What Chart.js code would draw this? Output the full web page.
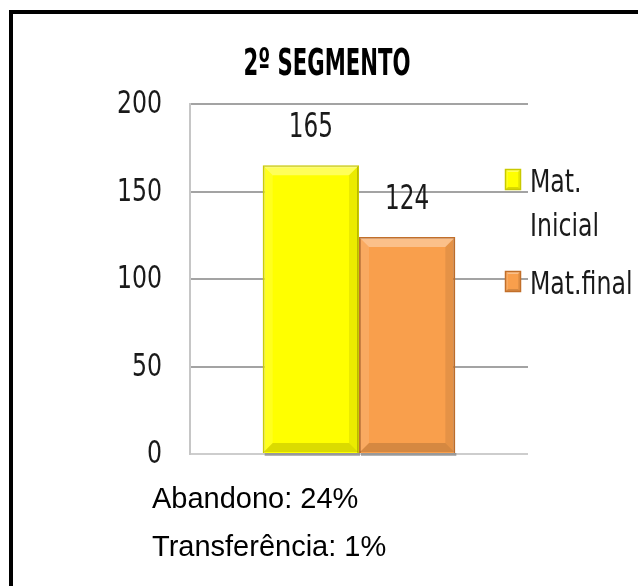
<!DOCTYPE html>
<html>
<head>
<meta charset="utf-8">
<script src="https://cdn.jsdelivr.net/npm/chart.js@4.4.0/dist/chart.umd.min.js"></script>
<style>
  html, body { margin: 0; padding: 0; background: #fff; overflow: hidden; }
  #frame { position: absolute; left: 9px; top: 10px; width: 700px; height: 700px; border-left: 4px solid #000; border-top: 4px solid #000; }
  #chartBox { position: absolute; left: 0; top: 0; width: 638px; height: 586px; }
  .note { position: absolute; left: 152px; font: 29px "Liberation Sans", Arial, sans-serif; line-height: 29px; color: #000; white-space: nowrap; }
</style>
</head>
<body>
<div id="frame"></div>
<div id="chartBox"><canvas id="chart" width="638" height="586"></canvas></div>
<div class="note" id="note0" style="top:484px"></div>
<div class="note" id="note1" style="top:532px"></div>
<script>
// chart data
const chartTitle = "2º SEGMENTO";
const categories = [""];
const seriesNames = ["Mat. Inicial", "Mat.final"];
const seriesValues = [[165], [124]];
const yTicks = [0, 50, 100, 150, 200];
const notes = ["Abandono: 24%", "Transferência: 1%"];

const fills = ["#FFFF00", "#F99F4C"];
const edges = ["#C9C900", "#C26F2A"];
const narrow = '"DejaVu Sans Condensed", "DejaVu Sans", sans-serif';
const squeeze = 0.82;

notes.forEach((t, i) => { document.getElementById("note" + i).textContent = t; });

// draw text squeezed sideways so it looks like the narrow original font
function drawText(ctx, text, x, y, sx, align) {
	ctx.save();
	ctx.translate(x, y);
	ctx.scale(sx, 1);
	ctx.textAlign = align;
	ctx.fillText(text, 0, 0);
	ctx.restore();
}

// light/dark edges like the excel bevel
function bevel(ctx, l, t, r, b, d) {
	const shade = (pts, col) => {
		ctx.beginPath();
		ctx.moveTo(pts[0][0], pts[0][1]);
		pts.slice(1).forEach(p => ctx.lineTo(p[0], p[1]));
		ctx.closePath();
		ctx.fillStyle = col;
		ctx.fill();
	};
	shade([[l, t], [r, t], [r - d, t + d], [l + d, t + d]], "rgba(255,255,255,0.35)");
	shade([[l, b], [r, b], [r - d, b - d], [l + d, b - d]], "rgba(0,0,0,0.14)");
	shade([[r, t], [r, b], [r - d, b - d], [r - d, t + d]], "rgba(0,0,0,0.08)");
	shade([[l, t], [l, b], [l + d, b - d], [l + d, t + d]], "rgba(255,255,255,0.12)");
}

// title, tick labels, value labels and the legend on the right
const extras = {
	id: "extras",
	afterDatasetsDraw(chart) {
		const ctx = chart.ctx;
		ctx.save();

		chart.data.datasets.forEach((ds, i) => {
			chart.getDatasetMeta(i).data.forEach(bar => {
				const l = bar.x - bar.width / 2, r = bar.x + bar.width / 2;
				bevel(ctx, l + 1, bar.y + 1, r - 1, bar.base - 1, 9);
				ctx.fillStyle = "rgba(90,90,90,0.45)";
				ctx.fillRect(l + 2, bar.base, bar.width - 1, 3);
			});
		});

		ctx.fillStyle = "#000";
		ctx.textBaseline = "alphabetic";
		ctx.font = "bold 37px " + narrow;
		const tw = ctx.measureText(chartTitle).width;
		drawText(ctx, chartTitle, 327, 75, 167 / tw, "center");

		ctx.fillStyle = "#1a1a1a";
		ctx.textBaseline = "middle";
		ctx.font = "32px " + narrow;
		const ys = chart.scales.y;
		ys.ticks.forEach(t => {
			drawText(ctx, String(t.value), 162, ys.getPixelForValue(t.value) + 1, squeeze, "right");
		});

		ctx.font = "33px " + narrow;
		chart.data.datasets.forEach((ds, i) => {
			chart.getDatasetMeta(i).data.forEach((bar, j) => {
				drawText(ctx, String(ds.data[j]), bar.x, bar.y - 37, 0.78, "center");
			});
		});

		ctx.font = "32px " + narrow;
		ctx.textBaseline = "alphabetic";
		let y = 169;
		chart.data.datasets.forEach((ds, i) => {
			const words = ds.label.split(" ");
			const lines = [];
			let cur = "";
			words.forEach(w => {
				const test = cur ? cur + " " + w : w;
				if (cur && ctx.measureText(test).width * squeeze > 106) {
					lines.push(cur);
					cur = w;
				} else {
					cur = test;
				}
			});
			lines.push(cur);

			ctx.fillStyle = fills[i];
			ctx.fillRect(505, y, 16, 21);
			bevel(ctx, 505, y, 521, y + 21, 3);
			ctx.strokeStyle = edges[i];
			ctx.lineWidth = 1.5;
			ctx.strokeRect(505.5, y + 0.5, 15, 20);

			ctx.fillStyle = "#1a1a1a";
			lines.forEach((ln, k) => drawText(ctx, ln, 530, y + 23 + k * 44, squeeze, "left"));
			y += lines.length * 44 + 14;
		});
		ctx.restore();
	}
};

new Chart(document.getElementById("chart"), {
	type: "bar",
	data: {
		labels: categories,
		datasets: seriesNames.map((name, i) => ({
			label: name,
			data: seriesValues[i],
			backgroundColor: fills[i],
			borderColor: edges[i],
			borderWidth: 2,
			categoryPercentage: 0.57,
			barPercentage: 1
		}))
	},
	options: {
		responsive: false,
		animation: false,
		layout: { padding: { left: 0, right: 110, top: 104, bottom: 132 } },
		plugins: {
			legend: { display: false },
			title: { display: false },
			tooltip: { enabled: false }
		},
		scales: {
			x: { display: false },
			y: {
				min: 0,
				max: 200,
				afterBuildTicks: scale => { scale.ticks = yTicks.map(v => ({ value: v })); },
				afterFit: scale => { scale.width = 190; },
				ticks: { display: false },
				grid: {
					drawTicks: false,
					lineWidth: 2,
					color: c => c.tick && c.tick.value === 0 ? "#cdcdcd" : "#a3a3a3"
				},
				border: { display: true, color: "#c6c6c6", width: 2 }
			}
		}
	},
	plugins: [extras]
});
</script>
</body>
</html>
